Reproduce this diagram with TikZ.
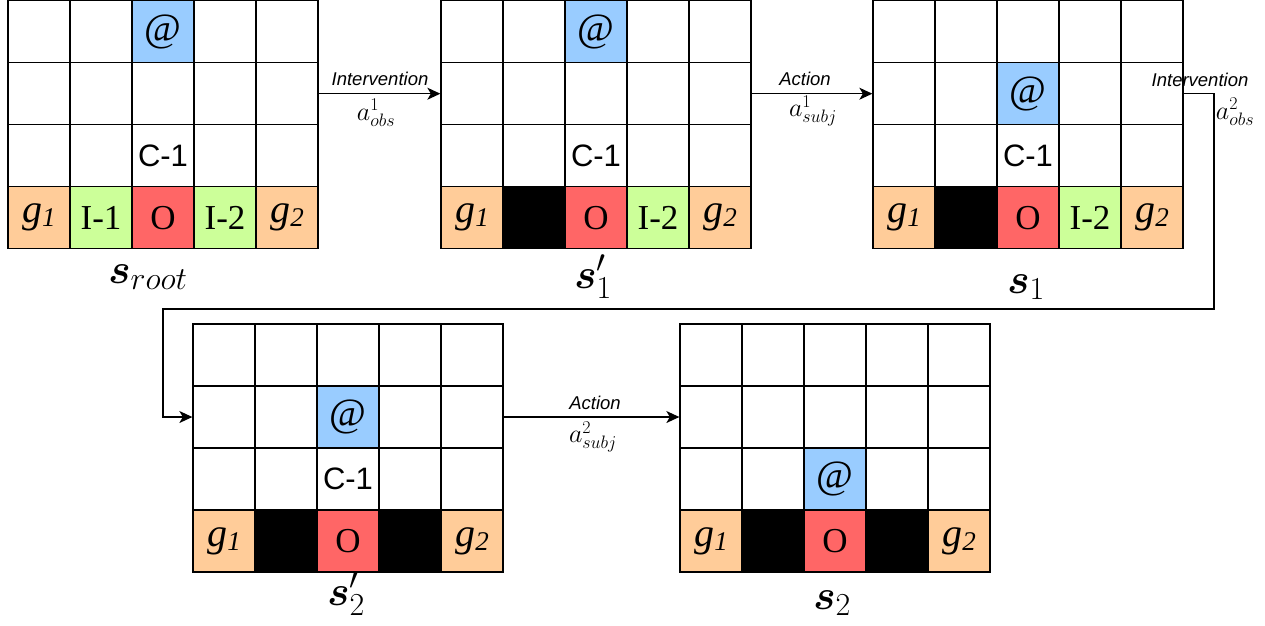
\RequirePackage{fix-cm}
\documentclass[tikz,border=0pt]{standalone}
\usepackage[no-math]{fontspec}
\setmainfont{Liberation Serif}
\setsansfont{Liberation Sans}
\usepackage{bm}
\DeclareMathSizes{42}{42}{32}{24}
\DeclareMathSizes{26}{26}{18}{13}
\usetikzlibrary{arrows.meta}
\definecolor{cblue}{HTML}{99CCFF}
\definecolor{cred}{HTML}{FF6666}
\definecolor{cgreen}{HTML}{CCFF99}
\definecolor{corange}{HTML}{FFCC99}
\newcommand\gridat[3]{%
  \foreach \r in {1,...,4}{\foreach \c in {1,...,5}{%
    \node[cell] (#1-\r-\c) at ({#2+62*\c-31},{#3+62*\r-31}) {};}}}
\newcommand\cellat[7]{\node[cell,#6] (#1) at ({#2+62*#5-31},{#3+62*#4-31}) {#7};}
\newcommand\gone{{\fontsize{40}{40}\selectfont\itshape g\raisebox{-4pt}{\fontsize{27}{27}\selectfont 1}}}
\newcommand\gtwo{{\fontsize{40}{40}\selectfont\itshape g\raisebox{-4pt}{\fontsize{27}{27}\selectfont 2}}}
\begin{document}
\begin{tikzpicture}[x=1pt,y=-1pt,
  cell/.style={draw=black,line width=1.3pt,minimum size=62pt,inner sep=0pt,
    font=\fontsize{35}{35}\selectfont},
  agent/.style={fill=cblue,font=\fontsize{40}{40}\selectfont},
  obj/.style={fill=cred},
  inter/.style={fill=cgreen},
  goal/.style={fill=corange},
  wall/.style={fill=black},
  ctxt/.style={font=\sffamily\fontsize{31}{31}\selectfont},
  lab/.style={font=\sffamily\itshape\fontsize{18.5}{18.5}\selectfont,inner sep=0pt},
  mlab/.style={font=\fontsize{26}{26}\selectfont,inner sep=0pt},
  slab/.style={font=\fontsize{42}{42}\selectfont,inner sep=0pt,anchor=base},
  conn/.style={line width=1.3pt,-{Stealth[length=13pt,width=12pt,inset=3.5pt]}}]
\useasboundingbox (0,0) rectangle (1265,625);
% grid 1: s_root
\gridat{A}{8}{0.7}
\cellat{A-at}{8}{0.7}{1}{3}{agent}{@}
\cellat{A-c}{8}{0.7}{3}{3}{ctxt}{C-1}
\cellat{A-g1}{8}{0.7}{4}{1}{goal}{\gone}
\cellat{A-i1}{8}{0.7}{4}{2}{inter}{I-1}
\cellat{A-o}{8}{0.7}{4}{3}{obj}{O}
\cellat{A-i2}{8}{0.7}{4}{4}{inter}{I-2}
\cellat{A-g2}{8}{0.7}{4}{5}{goal}{\gtwo}
% grid 2: s'_1
\gridat{B}{441}{0.7}
\cellat{B-at}{441}{0.7}{1}{3}{agent}{@}
\cellat{B-c}{441}{0.7}{3}{3}{ctxt}{C-1}
\cellat{B-g1}{441}{0.7}{4}{1}{goal}{\gone}
\cellat{B-w1}{441}{0.7}{4}{2}{wall}{}
\cellat{B-o}{441}{0.7}{4}{3}{obj}{O}
\cellat{B-i2}{441}{0.7}{4}{4}{inter}{I-2}
\cellat{B-g2}{441}{0.7}{4}{5}{goal}{\gtwo}
% grid 3: s_1
\gridat{C}{873}{0.7}
\cellat{C-at}{873}{0.7}{2}{3}{agent}{@}
\cellat{C-c}{873}{0.7}{3}{3}{ctxt}{C-1}
\cellat{C-g1}{873}{0.7}{4}{1}{goal}{\gone}
\cellat{C-w1}{873}{0.7}{4}{2}{wall}{}
\cellat{C-o}{873}{0.7}{4}{3}{obj}{O}
\cellat{C-i2}{873}{0.7}{4}{4}{inter}{I-2}
\cellat{C-g2}{873}{0.7}{4}{5}{goal}{\gtwo}
% grid 4: s'_2
\gridat{D}{193}{324}
\cellat{D-at}{193}{324}{2}{3}{agent}{@}
\cellat{D-c}{193}{324}{3}{3}{ctxt}{C-1}
\cellat{D-g1}{193}{324}{4}{1}{goal}{\gone}
\cellat{D-w1}{193}{324}{4}{2}{wall}{}
\cellat{D-o}{193}{324}{4}{3}{obj}{O}
\cellat{D-w2}{193}{324}{4}{4}{wall}{}
\cellat{D-g2}{193}{324}{4}{5}{goal}{\gtwo}
% grid 5: s_2
\gridat{E}{680}{324}
\cellat{E-at}{680}{324}{3}{3}{agent}{@}
\cellat{E-g1}{680}{324}{4}{1}{goal}{\gone}
\cellat{E-w1}{680}{324}{4}{2}{wall}{}
\cellat{E-o}{680}{324}{4}{3}{obj}{O}
\cellat{E-w2}{680}{324}{4}{4}{wall}{}
\cellat{E-g2}{680}{324}{4}{5}{goal}{\gtwo}
% state labels
\node[slab] (sA) at (148,283) {$\bm{s}_{root}$};
\node[slab] (sB) at (593,288) {$\bm{s}'_1$};
\node[slab] (sC) at (1026,293) {$\bm{s}_1$};
\node[slab] (sD) at (346,605) {$\bm{s}'_2$};
\node[slab] (sE) at (832,609) {$\bm{s}_2$};
% connectors
\coordinate (t1) at (1214,309);
\coordinate (t2) at (163,309);
\draw[conn] (A-2-5.east) -- (B-2-1.west);
\draw[conn] (B-2-5.east) -- (C-2-1.west);
\draw[conn] (C-2-5.east) -| (t1) -- (t2) |- (D-2-1.west);
\draw[conn] (D-2-5.east) -- (E-2-1.west);
% connector labels
\node[lab] (l1) at (380,79) {Intervention};
\node[mlab] (m1) at (376,113) {$a^1_{obs}$};
\node[lab] (l2) at (805,79) {Action};
\node[mlab] (m2) at (813,111) {$a^1_{subj}$};
\node[lab] (l3) at (1200,80) {Intervention};
\node[mlab] (m3) at (1235,112) {$a^2_{obs}$};
\node[lab] (l4) at (595,403) {Action};
\node[mlab] (m4) at (593,437) {$a^2_{subj}$};
\end{tikzpicture}
\end{document}
